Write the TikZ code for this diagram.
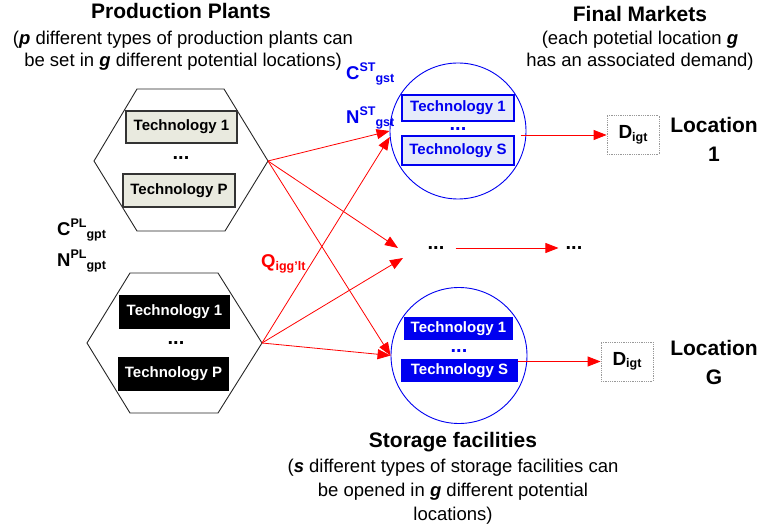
\documentclass[tikz,border=0pt]{standalone}
\usepackage{fontspec}
\setmainfont{Liberation Sans}
\usetikzlibrary{arrows.meta,positioning}

\definecolor{plfill}{HTML}{E9EADF}
\definecolor{stfill}{HTML}{E6EBF9}
\definecolor{stblue}{HTML}{0000F0}
\definecolor{flowred}{HTML}{FF0000}

% letter with a raised and a lowered index, set one after the other
\newcommand{\idxlbl}[3]{#1\raisebox{8.5pt}{\fontsize{12.5}{12}\selectfont #2}\raisebox{-2.5pt}{\fontsize{12.5}{12}\selectfont #3}}
\newcommand{\lowlbl}[2]{#1\raisebox{-2.5pt}{\fontsize{12.5}{12}\selectfont #2}}

\begin{document}
\begin{tikzpicture}[x=1pt, y=-1pt,
  title/.style={font=\fontsize{21}{22}\selectfont\bfseries, inner sep=0pt, anchor=base},
  note/.style={font=\fontsize{18.5}{22}\selectfont, align=center, inner sep=0pt, anchor=north},
  hexline/.style={draw=black!85, line width=0.9pt},
  techbox/.style={inner sep=0pt, font=\fontsize{15}{16}\selectfont\bfseries},
  techlt/.style={techbox, draw=black!80, line width=1.4pt, fill=plfill,
                 minimum width=111pt, minimum height=32pt},
  techdk/.style={techbox, fill=black, text=white, minimum width=111pt, minimum height=34pt},
  techst/.style={techbox, draw=stblue, line width=1.4pt, fill=stfill, text=stblue,
                 minimum width=112pt},
  techsf/.style={techbox, fill=stblue, text=white, minimum height=23pt},
  stcircle/.style={circle, draw=stblue, line width=0.9pt, minimum size=136pt, inner sep=0pt},
  demand/.style={draw=black!40, densely dotted, line width=0.8pt, minimum width=52pt,
                 minimum height=39pt, inner sep=0pt, font=\fontsize{19}{18}\selectfont\bfseries},
  dots/.style={inner sep=0pt, text height=3pt, text depth=0pt,
               font=\fontsize{20}{18}\selectfont\bfseries},
  idx/.style={inner sep=0pt, anchor=base west, font=\fontsize{18.5}{18}\selectfont\bfseries},
  flow/.style={flowred, line width=0.8pt, -{Triangle[length=13pt,width=10pt]}}]
  \useasboundingbox (0,0) rectangle (763,529);

  % headings
  \node[title] (plhead) at (181,19) {Production Plants};
  \node[note] (plnote) at (183,31)
       {(\textbf{\textit{p}} different types of production plants can\\
        be set in \textbf{\textit{g}} different potential locations)};
  \node[title] (fmhead) at (640,22) {Final Markets};
  \node[note] (fmnote) at (640,31)
       {(each potetial location \textbf{\textit{g}}\\has an associated demand)};
  \node[title] (sthead) at (453,447) {Storage facilities};
  \node[note, font=\fontsize{18.5}{24}\selectfont] (stnote) at (453,459)
       {(\textbf{\textit{s}} different types of storage facilities can\\
        be opened in \textbf{\textit{g}} different potential\\locations)};

  % production plants
  \draw[hexline] (94,161) -- (137,89) -- (224,89) -- (268,161)
                 -- (225,231) -- (137,231) -- cycle;
  \coordinate (plA) at (268,161);
  \node[techlt] (plA1) at (181.5,127) {Technology 1};
  \node[dots]   (plAd) at (181,158) {...};
  \node[techlt, minimum width=112pt, minimum height=33pt] (plAp) at (179,190.5) {Technology P};

  \draw[hexline] (87,343) -- (130,273) -- (218,273) -- (262,343)
                 -- (218,413) -- (130,413) -- cycle;
  \coordinate (plB) at (262,343);
  \node[techdk] (plB1) at (174.5,312) {Technology 1};
  \node[dots]   (plBd) at (176,343) {...};
  \node[techdk] (plBp) at (173.5,374) {Technology P};

  \node[idx] (cpl) at (57,236) {\idxlbl{C}{PL}{gpt}};
  \node[idx] (npl) at (57,267) {\idxlbl{N}{PL}{gpt}};

  % storage facilities
  \node[stcircle] (stA) at (458,131) {};
  \node[techst, minimum height=26pt] (stA1) at (458,108) {Technology 1};
  \node[dots, text=stblue] (stAd) at (458,129) {...};
  \node[techst, minimum height=29pt] (stAs) at (458,150.5) {Technology S};

  \node[stcircle] (stB) at (459,355.5) {};
  \node[techsf, minimum width=109pt] (stB1) at (458.5,328.5) {Technology 1};
  \node[dots, text=stblue] (stBd) at (459,351) {...};
  \node[techsf, minimum width=117pt] (stBs) at (459.5,370.5) {Technology S};

  \node[idx, text=stblue] (cst) at (346,80) {\idxlbl{C}{ST}{gst}};
  \node[idx, text=stblue] (nst) at (346,124) {\idxlbl{N}{ST}{gst}};

  % other locations
  \node[dots] (mida) at (436,248) {...};
  \node[dots] (midb) at (574,248) {...};
  \coordinate (midinA) at (398,248);
  \coordinate (midinB) at (403,258);

  % final markets
  \node[demand] (demA) at (633,135) {\lowlbl{D}{igt}};
  \node[demand] (demB) at (627,361.5) {\lowlbl{D}{igt}};
  \node[title, align=center, anchor=north, font=\fontsize{21}{29}\selectfont\bfseries]
       (locA) at (714,117) {Location\\1};
  \node[title, align=center, anchor=north, font=\fontsize{21}{29}\selectfont\bfseries]
       (locB) at (714,340) {Location\\G};

  % flows
  \draw[flow] (plA) -- (stA.west);
  \draw[flow] (plA) -- (midinA);
  \draw[flow] (plA) -- (stB.west);
  \draw[flow] (plB) -- (stA.185);
  \draw[flow] (plB) -- (midinB);
  \draw[flow] (plB) -- (stB.west);
  \node[idx, text=flowred] (qflow) at (261,268) {\lowlbl{Q}{igg'lt}};

  \draw[flow] ([xshift=6pt]stAs.east |- demA) -- (demA);
  \draw[flow] (stBs.east |- demB) -- (demB);
  \draw[flow, shorten <=11pt, shorten >=7pt] (mida.east) -- (midb.west);
\end{tikzpicture}
\end{document}
